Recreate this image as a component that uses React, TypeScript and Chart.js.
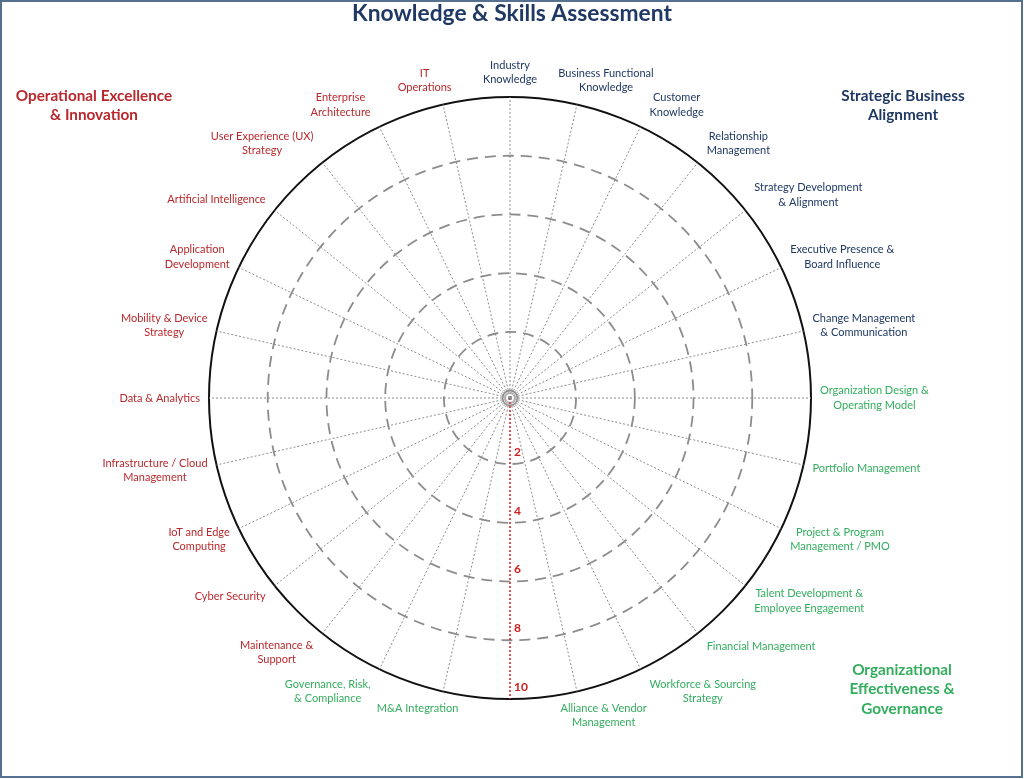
import React, { useEffect, useRef } from "react";
import { Chart, registerables } from "chart.js";

Chart.register(...registerables);

// ---------- data ----------
const chartTitle = "Knowledge & Skills Assessment";

const categories: string[][] = [
  ["Industry", "Knowledge"],
  ["Business Functional", "Knowledge"],
  ["Customer", "Knowledge"],
  ["Relationship", "Management"],
  ["Strategy Development", "& Alignment"],
  ["Executive Presence &", "Board Influence"],
  ["Change Management", "& Communication"],
  ["Organization Design &", "Operating Model"],
  ["Portfolio Management"],
  ["Project & Program", "Management / PMO"],
  ["Talent Development &", "Employee Engagement"],
  ["Financial Management"],
  ["Workforce & Sourcing", "Strategy"],
  ["Alliance & Vendor", "Management"],
  [""],
  ["M&A Integration"],
  ["Governance, Risk,", "& Compliance"],
  ["Maintenance &", "Support"],
  ["Cyber Security"],
  ["IoT and Edge", "Computing"],
  ["Infrastructure / Cloud", "Management"],
  ["Data & Analytics"],
  ["Mobility & Device", "Strategy"],
  ["Application", "Development"],
  ["Artificial Intelligence"],
  ["User Experience (UX)", "Strategy"],
  ["Enterprise", "Architecture"],
  ["IT", "Operations"],
];

// group of each category: S = strategic, O = organizational, E = operational excellence
const categoryGroups: string[] = [
  "S", "S", "S", "S", "S", "S", "S",
  "O", "O", "O", "O", "O", "O", "O", "O", "O", "O",
  "E", "E", "E", "E", "E", "E", "E", "E", "E", "E", "E",
];

const groupNames: Record<string, string[]> = {
  S: ["Strategic Business", "Alignment"],
  O: ["Organizational", "Effectiveness &", "Governance"],
  E: ["Operational Excellence", "& Innovation"],
};

const groupColors: Record<string, string> = {
  S: "#1f3864",
  O: "#33ad5e",
  E: "#b8282c",
};

const scoreValues: (number | null)[] = [];
const tickValues: number[] = [2, 4, 6, 8, 10];
const axisIndex = 14;
const scaleMin = -0.25;
const scaleMax = 10;

// ---------- plugin ----------
const overlayPlugin = {
  id: "overlay",
  afterDraw(chart: any) {
    const ctx: CanvasRenderingContext2D = chart.ctx;
    const s: any = chart.scales.r;
    const R = s.drawingArea;
    ctx.save();

    // category labels
    const lh = 14.5;
    const padX = 9;
    const padY = 10;
    ctx.font = "11px Lato";
    ctx.textAlign = "center";
    ctx.textBaseline = "middle";
    categories.forEach((lines, i) => {
      if (!lines.join("")) return;
      const w = Math.max(...lines.map((l) => ctx.measureText(l).width));
      const h = lines.length * lh;
      const a = s.getIndexAngle(i);
      const p = s.getPointPosition(i, R);
      const fx = Math.max(-1, Math.min(1, Math.sin(a) * 2.3));
      const cx = p.x + fx * (w / 2 + padX);
      const cy = p.y - Math.cos(a) * (h / 2 + padY);
      ctx.fillStyle = groupColors[categoryGroups[i]];
      lines.forEach((l, k) => ctx.fillText(l, cx, cy - h / 2 + lh * (k + 0.5)));
    });

    // tick labels along the bottom axis
    ctx.font = "bold 12px Lato";
    ctx.fillStyle = "#d0201f";
    ctx.textAlign = "left";
    tickValues.forEach((v) => {
      const p = s.getPointPosition(axisIndex, s.getDistanceFromCenterForValue(v) - 12);
      ctx.fillText(String(v), p.x + 4, p.y);
    });

    // title
    ctx.font = "bold 22.8px Lato";
    ctx.fillStyle = "#1f3864";
    ctx.textAlign = "center";
    ctx.fillText(chartTitle, 512, 14);

    // group headings
    ctx.font = "bold 15.3px Lato";
    const drawGroup = (key: string, x: number, y: number) => {
      ctx.fillStyle = groupColors[key];
      groupNames[key].forEach((l, k) => ctx.fillText(l, x, y + k * 19.5));
    };
    drawGroup("E", 94, 96);
    drawGroup("S", 903, 96);
    drawGroup("O", 902, 670);

    // frame
    ctx.strokeStyle = "#56708f";
    ctx.lineWidth = 2;
    ctx.strokeRect(1, 1, 1021, 776);
    ctx.restore();
  },
};

export default function App() {
  const ref = useRef<HTMLCanvasElement | null>(null);
  useEffect(() => {
    if (!ref.current) return;
    const chart = new Chart(ref.current, {
      type: "radar",
      data: {
        labels: categories.map((c) => c.join(" ")),
        datasets: [
          {
            label: "Assessment",
            data: scoreValues,
            borderColor: "rgba(0,0,0,0)",
            backgroundColor: "rgba(0,0,0,0)",
            pointRadius: 0,
          },
        ],
      },
      options: {
        responsive: false,
        animation: false,
        devicePixelRatio: 1,
        layout: { padding: { left: 209, right: 213, top: 97, bottom: 80 } },
        plugins: {
          legend: { display: false },
          tooltip: { enabled: false },
          title: { display: false },
        },
        scales: {
          r: {
            min: scaleMin,
            max: scaleMax,
            ticks: { display: false, stepSize: 2 },
            pointLabels: { display: false },
            grid: {
              circular: true,
              color: (c: any) => {
                const v = c.tick ? c.tick.value : 0;
                return v >= scaleMax ? "#111111" : "#8c8c8c";
              },
              lineWidth: (c: any) => {
                const v = c.tick ? c.tick.value : 0;
                return v >= scaleMax ? 2 : v <= 0 ? 1.6 : 1.8;
              },
            },
            border: {
              dash: (c: any) => {
                const v = c.tick ? c.tick.value : 0;
                return v >= scaleMax || v <= 0 ? [] : [11, 7];
              },
            },
            angleLines: {
              color: (c: any) => (c.index === axisIndex ? "#d42a2a" : "#8c8c8c"),
              lineWidth: (c: any) => (c.index === axisIndex ? 1.6 : 1),
              borderDash: [2, 2],
            },
          },
        },
      } as any,
      plugins: [overlayPlugin],
    });
    return () => chart.destroy();
  }, []);

  return (
    <div style={{ position: "fixed", left: 0, top: 0, width: 1024, height: 779, background: "#ffffff" }}>
      <canvas ref={ref} width={1024} height={779} style={{ display: "block" }} />
    </div>
  );
}
